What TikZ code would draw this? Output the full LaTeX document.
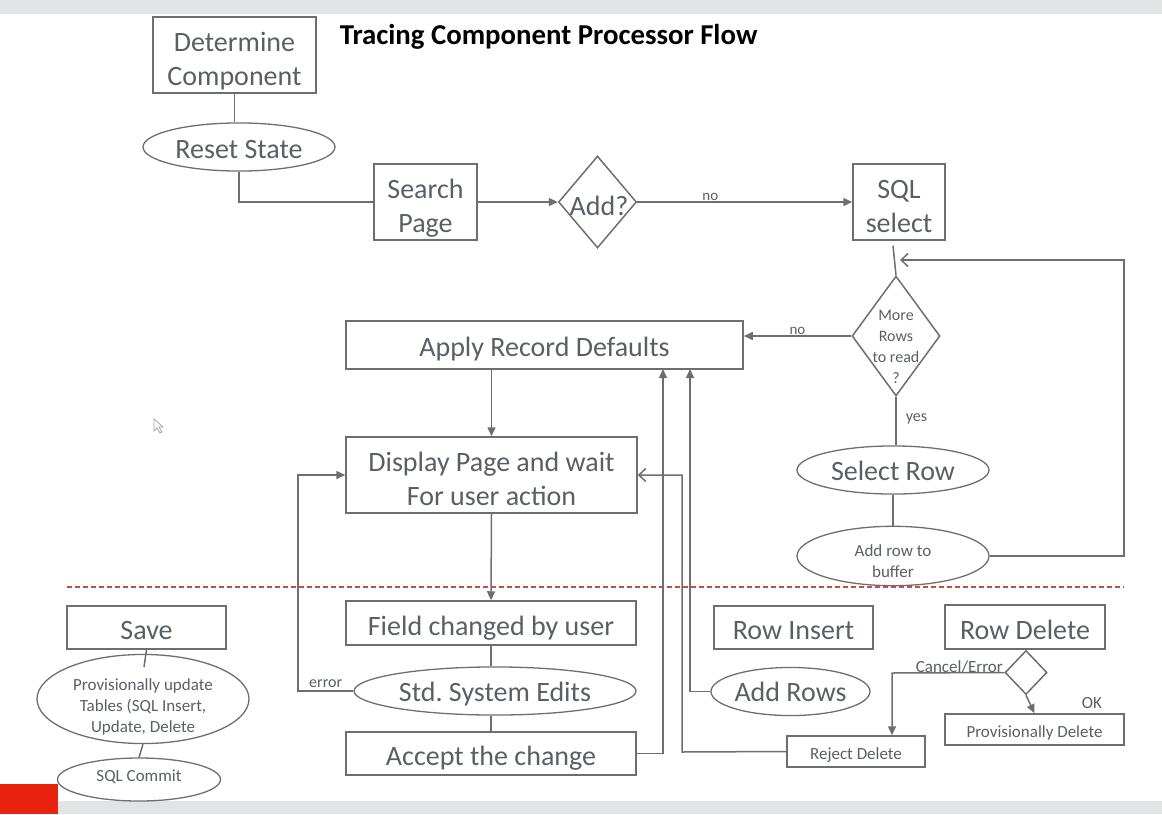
\documentclass[tikz,border=0pt]{standalone}
\usepackage{fontspec}
\setmainfont{Carlito}
\usetikzlibrary{shapes.geometric,arrows.meta,calc}
\definecolor{ln}{HTML}{6E6E6E}
\definecolor{tx}{HTML}{5A5F66}
\definecolor{barc}{HTML}{E1E4E4}
\definecolor{reddash}{HTML}{C0504D}
\definecolor{logo}{HTML}{E8230F}
\newcommand{\lowtxt}[2]{\raisebox{-#1}[\height][\depth]{\begin{tabular}{@{}c@{}}#2\end{tabular}}}
\frenchspacing
\begin{document}
\begin{tikzpicture}[x=1pt,y=-1pt,
  line width=1.5pt,
  big/.style={font=\fontsize{28}{34}\selectfont},
  small/.style={font=\fontsize{17}{21}\selectfont},
  box/.style={draw=ln,line width=1.5pt,rectangle,inner sep=0pt,text=tx,align=center},
  oval/.style={draw=ln,line width=1.3pt,ellipse,inner sep=0pt,text=tx,align=center},
  dia/.style={draw=ln,line width=1.5pt,diamond,inner sep=0pt},
  conn/.style={draw=ln,line width=1.5pt},
  tri/.style={conn,-{Triangle[length=9pt,width=8pt]}},
  barb/.style={conn,-{Straight Barb[length=7pt,width=13pt]}},
  lbl/.style={text=tx,inner sep=1pt},
]
\useasboundingbox (0,0) rectangle (1162,814);
% screen bars
\fill[barc] (0,0) rectangle (1162,14);
\fill[barc] (0,801) rectangle (1162,814);
\fill[logo] (0,784) rectangle (58,814);
% mouse pointer
\draw[gray!70,line width=0.8pt,fill=white] (154,419) -- (154,431) -- (157,428) -- (160,433) -- (162,432) -- (159,427) -- (163,427) -- cycle;

% title
\node[font=\fontsize{28.8}{34}\selectfont\bfseries, text=black, anchor=west, inner sep=0pt] (title) at (339,37) {Tracing Component Processor Flow};

% top flow
\node[box,big,minimum width=163pt,minimum height=76pt] (det) at (234.5,55) {\lowtxt{7pt}{Determine\\Component}};
\node[oval,big,minimum width=192pt,minimum height=44pt] (reset) at (239,147) {\lowtxt{5pt}{Reset State}};
\node[box,big,minimum width=103pt,minimum height=76pt] (search) at (425.5,202) {\lowtxt{7pt}{Search\\Page}};
\node[dia,minimum width=78pt,minimum height=92pt] (add) at (597.5,202) {};
\node[lbl,big,inner sep=0pt] (addt) at (599,206) {Add?};
\node[box,big,minimum width=92pt,minimum height=76pt] (sql) at (899,202) {\lowtxt{6.5pt}{SQL\\select}};
\node[dia,minimum width=88pt,minimum height=120pt] (more) at (896,336) {};
\node[lbl,align=center,font=\fontsize{16}{21}\selectfont,inner sep=0pt] (moret) at (896,347) {More\\Rows\\to read\\?};
\node[box,big,minimum width=397pt,minimum height=48pt] (apply) at (544.5,345) {\lowtxt{5pt}{Apply Record Defaults}};
\node[oval,big,minimum width=192pt,minimum height=44pt] (selrow) at (893,470) {\lowtxt{4pt}{Select Row}};
\node[oval,small,minimum width=192pt,minimum height=44pt] (addrow) at (893,556) {\lowtxt{7pt}{\fontsize{17}{20}\selectfont Add row to\\buffer}};
\node[box,big,minimum width=291pt,minimum height=76pt] (display) at (491.5,475) {\lowtxt{6.5pt}{Display Page and wait\\For user action}};

\coordinate (loopc) at (1124,260);
\coordinate (loopend) at (900,260);

\draw[conn] (det.south) -- (det.south |- reset.north);
\draw[conn] (reset.south) |- (search.west);
\draw[tri] (search.east) -- (add.west);
\draw[tri] (add.east) -- node[lbl,above,pos=0.34,font=\fontsize{15}{18}\selectfont] {no} (sql.west);
\draw[conn] ($(sql.south)+(-6,5)$) -- (more.north);
\draw[tri] (more.west) -- node[lbl,above,font=\fontsize{15}{18}\selectfont] {no} (more.west -| apply.east);
\draw[conn] (more.south) -- node[lbl,right=8pt,pos=0.45,font=\fontsize{16}{18}\selectfont] {yes} (more.south |- selrow.north);
\draw[conn] (selrow.south) -- (addrow.north);
\draw[barb] (addrow.east) -| (loopc) -- (loopend);
\draw[tri] (apply.south -| display.north) -- (display.north);

% dashed separator
\draw[reddash,line width=1.2pt,dash pattern=on 5pt off 3pt] (67,587) -- (1124,587);

% bottom: field edit flow
\node[box,big,minimum width=290pt,minimum height=44pt] (field) at (491,623) {\lowtxt{6pt}{Field changed by user}};
\node[oval,big,minimum width=282pt,minimum height=45pt] (std) at (495,691) {\lowtxt{4pt}{Std. System Edits}};
\node[box,big,minimum width=290pt,minimum height=43pt] (accept) at (491,753.5) {\lowtxt{5pt}{Accept the change}};

\draw[tri] (display.south) -- (field.north);
\draw[conn] (field.south) -- (field.south |- std.north);
\draw[conn] (std.south -| accept.north) -- (accept.north);

\coordinate (ap1) at (663,369);
\coordinate (ap2) at (690,369);
\coordinate (er) at (298,691);
\coordinate (rj) at (682,752);

\draw[tri] (accept.east) -| (ap1);
\draw[tri] (std.west) -- node[lbl,above,yshift=1.5pt,font=\fontsize{16}{18}\selectfont] {error} (er) |- (display.west);

% save
\node[box,big,minimum width=159pt,minimum height=43pt] (save) at (146.5,627.5) {\lowtxt{5pt}{Save}};
\node[oval,small,minimum width=212pt,minimum height=82pt] (provup) at (143,699) {\lowtxt{8pt}{Provisionally update\\Tables (SQL Insert,\\Update, Delete}};
\node[oval,small,minimum width=163pt,minimum height=43pt] (commit) at (139,779.5) {\lowtxt{-2pt}{SQL Commit}};
\coordinate (sv) at (144,667);
\draw[conn] (save.south) -- (sv);
\draw[conn] (provup.south) -- (commit.north);

% row insert
\node[box,big,minimum width=159pt,minimum height=43pt] (rowins) at (793.5,627.5) {\lowtxt{5pt}{Row Insert}};
\node[oval,big,minimum width=159pt,minimum height=45pt] (addrows) at (790.5,691.5) {\lowtxt{3pt}{Add Rows}};
\draw[tri] (addrows.west) -| (ap2);

% row delete
\node[box,big,minimum width=160pt,minimum height=44pt] (rowdel) at (1025,627) {\lowtxt{5.5pt}{Row Delete}};
\node[dia,minimum width=42pt,minimum height=44pt] (rd) at (1026,672.5) {};
\node[box,small,minimum width=179pt,minimum height=31pt] (provdel) at (1034.5,729.5) {\lowtxt{4pt}{Provisionally Delete}};
\node[box,small,minimum width=138pt,minimum height=31pt] (reject) at (856,751.5) {\lowtxt{4pt}{Reject Delete}};
\coordinate (ce) at (892,673);
\draw[tri] (rd.west) -- node[lbl,above,pos=0.4,inner sep=-1pt,font=\fontsize{17}{18}\selectfont] {Cancel/Error} (ce) -- (ce |- reject.north);
\draw[tri] (rd.south) -- (provdel.north);
\node[lbl,small] (ok) at (1092,703) {OK};
\draw[barb] (reject.west) -- (rj) |- (display.east);
\end{tikzpicture}
\end{document}
